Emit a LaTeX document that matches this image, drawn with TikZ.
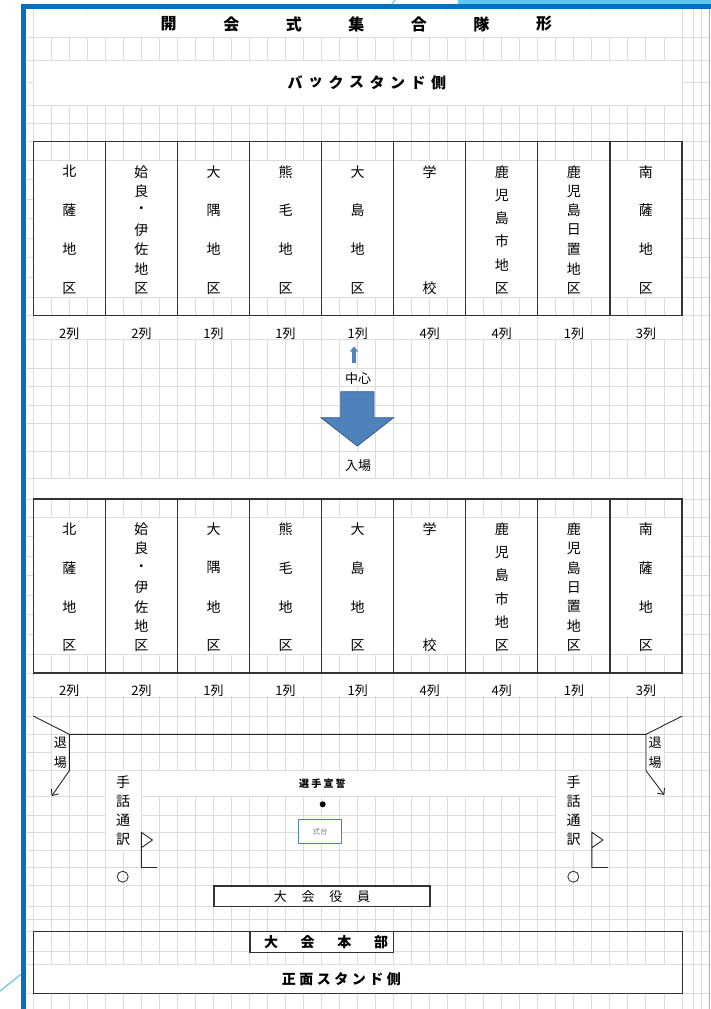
\documentclass[tikz,border=0pt]{standalone}
\usepackage{fontspec}
\setmainfont{Noto Sans CJK JP}
\usetikzlibrary{arrows.meta}
\definecolor{frameblue}{RGB}{0,112,192}
\definecolor{skyblue}{RGB}{96,200,240}
\definecolor{gridgray}{RGB}{220,220,220}
\definecolor{arrowfill}{RGB}{79,129,189}
\definecolor{arrowline}{RGB}{56,93,138}
\tikzset{
    >=Stealth,
    gridline/.style={draw=gridgray, line width=1pt},
    boxline/.style={draw=black!80, line width=1.2pt},
    areabox/.style={rectangle, boxline, minimum width=72.08pt, minimum height=174pt, inner sep=0pt},
    officebox/.style={rectangle, boxline, fill=white, inner sep=0pt},
    spreadchar/.style={inner sep=0pt, font=\fontsize{13}{13}\selectfont},
    areachar/.style={font=\fontsize{14}{14}\selectfont},
    titlechar/.style={font=\fontsize{16}{16}\selectfont\bfseries},
    standchar/.style={font=\fontsize{15}{15}\selectfont\bfseries},
    hqchar/.style={font=\fontsize{14}{14}\selectfont\bfseries},
    oathchar/.style={font=\fontsize{10}{10}\selectfont\bfseries},
    rowcount/.style={inner sep=0pt, font=\fontsize{13}{13}\selectfont},
    tracklines/.style={draw=black!85, line width=0.9pt},
    exitarrow/.style={tracklines, -{Straight Barb[length=5pt, width=9pt]}},
    seatmark/.style={circle, draw=black!85, line width=0.8pt, minimum size=11pt, inner sep=0pt},
    podium/.style={rectangle, draw=arrowfill, line width=0.9pt, fill=white, minimum width=43.4pt,
        minimum height=24.3pt, inner sep=0pt, text=black!50, font=\fontsize{7.5}{7.5}\selectfont},
    bigarrow/.style={fill=arrowfill, draw=arrowline, line width=0.8pt},
    signflag/.pic={
        \draw[tracklines] (0,0) -- (0,-35.4) -- (11,-27.7) -- (0,-20);
        \draw[tracklines] (0,0) -- (16,0);
    }
}

% characters set one by one along a line
\newcommand{\spreadtext}[7][]{%
    \edef\spreadlist{#7}%
    \foreach \ch [count=\k] in \spreadlist {%
        \node[spreadchar,#1] (#2-\k) at ({(#3)+(\k-1)*(#5)}, {(#4)+(\k-1)*(#6)}) {\ch};
    }%
}
% merged cells hide the grid
\newcommand{\mergecells}[4]{%
    \fill[white] ({#1+0.5},{#2+0.5}) rectangle ({#3-0.5},{#4-0.5});%
}

\begin{document}
\begin{tikzpicture}[x=1pt, y=-1pt]
    \useasboundingbox (0,0) rectangle (711,1009);
    \fill[white] (0,0) rectangle (711,1009);

    % sheet grid
    \foreach \k in {0,...,36}
        \draw[gridline] ({33.3+18.02*\k},9.4) -- ({33.3+18.02*\k},1009);
    \foreach \x in {693.3,701.7}
        \draw[gridline] (\x,9.4) -- (\x,1009);
    \foreach \y in {37,60,82,105,123,141.7,160,179.5,199,218.5,238,257.5,277,297.5,315.7,
                    339.5,368,386.7,405,423,451.7,478,499,517.3,536.8,556.3,575.8,595.3,614.8,
                    634.3,654.8,673,697,716,734.3,752,770.7,796.7,815,832,850,867.7,885.7,
                    906.7,919,931.7,951.7,964,993.3}
        \draw[gridline] (25.7,\y) -- (709,\y);

    % merged cells
    \mergecells{33.3}{9.4}{682.3}{37}
    \mergecells{33.3}{60}{682.3}{105}
    \foreach \dy in {0,357.3} {
        \mergecells{33.3}{160+\dy}{682.3}{297.5+\dy}
        \mergecells{33.3}{315.7+\dy}{682.3}{339.5+\dy}
        \foreach \k in {0,...,9}
            \draw[gridline] ({33.3+72.08*\k},{315.7+\dy}) -- ++(0,23.8);
    }
    \mergecells{33.3}{478}{682.3}{499}
    \mergecells{339.7}{368}{375.7}{386.7}
    \mergecells{339.7}{451.7}{375.7}{478}
    \mergecells{51.3}{734.3}{69.3}{770.7}
    \mergecells{646}{734.3}{664}{770.7}
    \mergecells{105.4}{770.7}{141.4}{850}
    \mergecells{141.4}{770.7}{555.9}{796.7}
    \mergecells{555.9}{770.7}{591.9}{850}
    \mergecells{33.3}{964}{682.3}{993.3}

    % frame
    \fill[frameblue] (20.7,4) rectangle (711,9.4);
    \fill[frameblue] (20.7,4) rectangle (25.7,1009);
    \fill[skyblue] (458,0) rectangle (711,4);
    \draw[skyblue, line width=1pt] (392,4) -- (395,0);
    \draw[skyblue, line width=1.2pt] (709.8,9.4) -- (709.8,1009);
    \draw[skyblue, line width=1.2pt] (0,991) -- (20.7,974.5);

    % headings
    \spreadtext[titlechar]{title}{168.7}{24}{62.55}{0}{開,会,式,集,合,隊,形}
    \spreadtext[standchar]{back}{295}{82.7}{20.5}{0}{バ,ッ,ク,ス,タ,ン,ド,側}

    % district columns, before and after the entry
    \foreach \band/\dy in {1/0, 2/357.3} {
        \foreach \i/\n/\chs/\cols in {1/4/{北,薩,地,区}/2, 2/7/{姶,良,・,伊,佐,地,区}/2,
                                    3/4/{大,隅,地,区}/1, 4/4/{熊,毛,地,区}/1,
                                    5/4/{大,島,地,区}/1, 6/2/{学,校}/4,
                                    7/6/{鹿,児,島,市,地,区}/4, 8/7/{鹿,児,島,日,置,地,区}/1,
                                    9/4/{南,薩,地,区}/3} {
            \node[areabox] (box\band\i) at ({33.3+72.08*(\i-0.5)}, {228.7+\dy}) {};
            \spreadtext[areachar]{area\band\i}{33.3+72.08*(\i-0.5)}{171.7+\dy}{0}{116.6/(\n-1)}{\chs}
            \node[rowcount] (cnt\band\i) at ({33.3+72.08*(\i-0.5)}, {333.3+\dy}) {\cols 列};
        }
    }

    % centre mark and entry arrow
    \coordinate (midbase) at (354,363);
    \coordinate (midtip) at (354,346.5);
    \draw[-{Triangle[width=8pt,length=5pt]}, line width=3.5pt, arrowfill] (midbase) -- (midtip);
    \node[rowcount] (centre) at (358,379) {中心};
    \draw[bigarrow] (340.7,391.7) -- (374,391.7) -- (374,417.7) -- (393.6,417.7)
        -- (357.3,446) -- (321,417.7) -- (340.7,417.7) -- cycle;
    \node[rowcount] (entry) at (358,465.7) {入場};

    % track and exits
    \coordinate (cornerL) at (33.3,716);
    \coordinate (cornerR) at (682.3,716);
    \coordinate (trackL) at (69.3,734.3);
    \coordinate (trackR) at (646,734.3);
    \coordinate (exitL) at (69.3,770.7);
    \coordinate (exitR) at (646,770.7);
    \coordinate (exitLend) at (51.7,796);
    \coordinate (exitRend) at (664.3,795);
    \draw[tracklines] (cornerL) -- (trackL) -- (trackR) -- (cornerR);
    \draw[exitarrow] (trackL) -- (exitL) -- (exitLend);
    \draw[exitarrow] (trackR) -- (exitR) -- (exitRend);
    \spreadtext{leaveL}{60.3}{742.7}{0}{20}{退,場}
    \spreadtext{leaveR}{655}{742.7}{0}{20}{退,場}

    % sign interpreters
    \spreadtext[areachar]{signL}{123}{781.7}{0}{19.4}{手,話,通,訳}
    \spreadtext[areachar]{signR}{573.6}{781.7}{0}{19.4}{手,話,通,訳}
    \pic at (141.4,867.7) {signflag};
    \pic at (591.9,867.7) {signflag};
    \node[seatmark] (seatL) at (122.7,876.7) {};
    \node[seatmark] (seatR) at (573.3,876.7) {};

    % oath and podium
    \spreadtext[oathchar]{oath}{304.1}{784}{12.2}{0}{選,手,宣,誓}
    \node[circle, fill=black, minimum size=6pt, inner sep=0pt] (oathdot) at (322.7,804.3) {};
    \node[podium] (podium) at (320,831.2) {式台};

    % officials
    \node[officebox, minimum width=216pt, minimum height=20.7pt] (officials) at (322,896.4) {};
    \spreadtext{staff}{280.4}{896.4}{27.7}{0}{大,会,役,員}

    % main stand
    \node[rectangle, boxline, minimum width=649pt, minimum height=61.6pt, inner sep=0pt] (mainstand) at (357.8,962.5) {};
    \node[officebox, minimum width=143.7pt, minimum height=20.6pt] (hq) at (321.85,942) {};
    \spreadtext[hqchar]{hqtext}{271}{942}{36.7}{0}{大,会,本,部}
    \spreadtext[hqchar]{front}{288.75}{979.3}{17.5}{0}{正,面,ス,タ,ン,ド,側}
\end{tikzpicture}
\end{document}
